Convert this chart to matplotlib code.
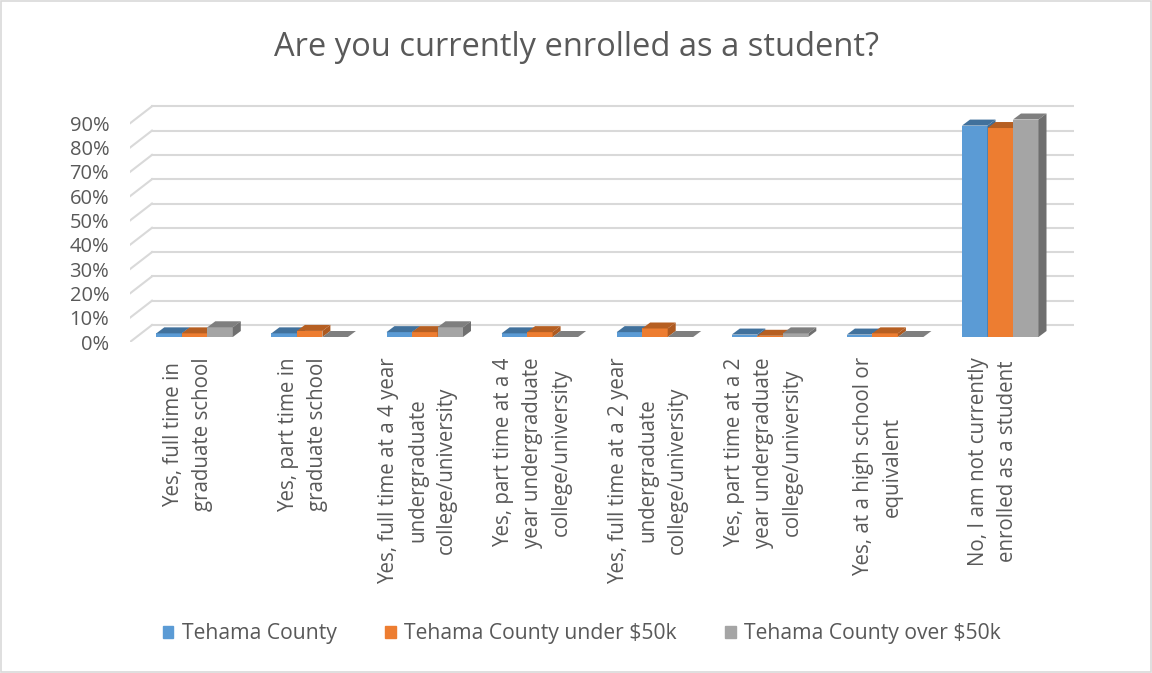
import matplotlib.pyplot as plt
from matplotlib.patches import Polygon, Rectangle

categories = [
    "Yes, full time in\ngraduate school",
    "Yes, part time in\ngraduate school",
    "Yes, full time at a 4 year\nundergraduate\ncollege/university",
    "Yes, part time at a 4\nyear undergraduate\ncollege/university",
    "Yes, full time at a 2 year\nundergraduate\ncollege/university",
    "Yes, part time at a 2\nyear undergraduate\ncollege/university",
    "Yes, at a high school or\nequivalent",
    "No, I am not currently\nenrolled as a student",
]
tehama = [1.5, 1.5, 2.0, 1.5, 2.0, 1.0, 1.0, 87.0]
under50 = [1.5, 2.5, 2.0, 2.0, 3.5, 0.5, 1.5, 86.0]
over50 = [4.0, 0.0, 4.0, 0.0, 0.0, 1.5, 0.0, 89.5]
series_names = ["Tehama County", "Tehama County under $50k", "Tehama County over $50k"]
yticks = [0, 10, 20, 30, 40, 50, 60, 70, 80, 90]

front_cols = ["#5B9BD5", "#ED7D31", "#A5A5A5"]
top_cols = ["#41719C", "#B65F22", "#7F7F7F"]
side_cols = ["#3F6D97", "#AE5A20", "#6F6F6F"]

plt.rcParams['font.family'] = ['Open Sans', 'DejaVu Sans']
fig = plt.figure(figsize=(11.52, 6.73), dpi=100)
fig.patches.append(Rectangle((0.001, 0.001), 0.998, 0.997, transform=fig.transFigure,
                             fill=False, edgecolor="#D9D9D9", lw=1.2))

# axes: front floor at px 342, 2.43 px per %, 115.1 px per category
W, H = 1152, 673
px_cat, px_pct = 115.1, 2.43
x_max, y_max = 8.2, 98
left, bottom = 130, 342
ax = fig.add_axes([left / W, (H - bottom) / H, x_max * px_cat / W, y_max * px_pct / H])
ax.set_xlim(0, x_max)
ax.set_ylim(0, y_max)
for s in ax.spines.values():
    s.set_visible(False)

# back wall depth offset
wdx, wdy = 22 / px_cat, 17 / px_pct
gc = "#D9D9D9"
for v in yticks:
    ax.plot([0, wdx], [v, v + wdy], color=gc, lw=1.5, zorder=1)
    ax.plot([wdx, 8 + wdx], [v + wdy, v + wdy], color=gc, lw=1.5, zorder=1)

# bars
bw = 25.5 / px_cat
bdx, bdy = 8 / px_cat, 6 / px_pct
xoff, base = 7 / px_cat, 5 / px_pct
data = [tehama, under50, over50]
for i in range(len(categories)):
    c = i + 0.5 + xoff
    for j, vals in enumerate(data):
        v = vals[i]
        x0 = c + (j - 1.5) * bw
        x1 = x0 + bw
        z = 3 + j
        ax.bar(x0, v, width=bw, bottom=base, align='edge', color=front_cols[j], zorder=z)
        ax.add_patch(Polygon([(x0, base + v), (x0 + bdx, base + v + bdy), (x1 + bdx, base + v + bdy), (x1, base + v)],
                             closed=True, color=top_cols[j], zorder=z, lw=0))
        ax.add_patch(Polygon([(x1, base), (x1, base + v), (x1 + bdx, base + v + bdy), (x1 + bdx, base + bdy)],
                             closed=True, color=side_cols[j], zorder=z, lw=0))

ax.set_yticks(yticks)
ax.set_yticklabels([f"{v}%" for v in yticks], fontsize=14.5, color="#595959")
ax.set_xticks([i + 0.5 for i in range(len(categories))])
ax.set_xticklabels(categories, rotation=90, fontsize=14.8, color="#595959", va='top', ha='center')
for lab in ax.get_xticklabels():
    lab.set_multialignment('center')
    lab.set_linespacing(1.5)
ax.tick_params(axis='y', length=0, pad=15)
ax.tick_params(axis='x', length=0, pad=11)

fig.text(0.5, 1 - 47 / H, "Are you currently enrolled as a student?", ha='center', va='center',
         fontsize=23.5, color="#595959")

handles = [Rectangle((0, 0), 1, 1, color=c) for c in front_cols]
fig.legend(handles, series_names, loc='center', bbox_to_anchor=(0.505, 1 - 634 / H), ncol=3,
           frameon=False, fontsize=15.2, labelcolor="#595959", handlelength=0.5, handleheight=0.5,
           handletextpad=0.4, columnspacing=2.3)

fig.savefig("out.png", dpi=100)
